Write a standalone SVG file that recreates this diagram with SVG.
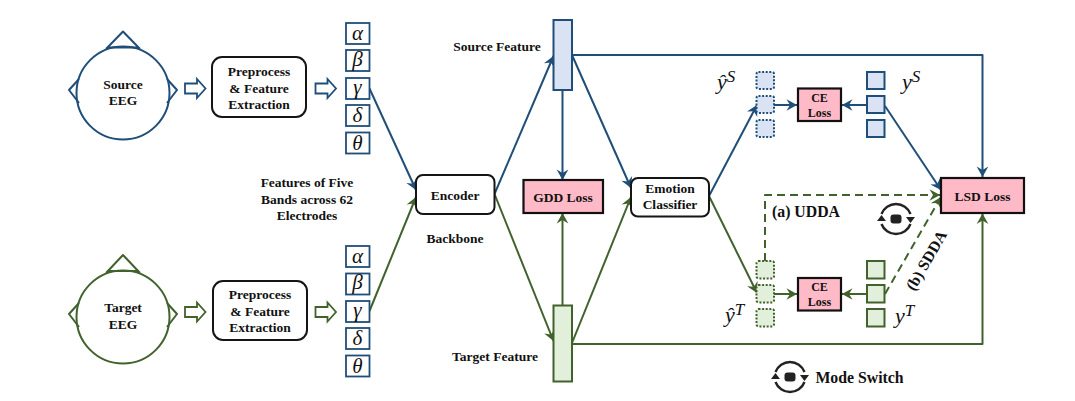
<svg xmlns="http://www.w3.org/2000/svg" xmlns:xlink="http://www.w3.org/1999/xlink" width="1075" height="401" viewBox="0 0 1075 401">
<style>
text{font-family:"Liberation Serif","Times New Roman",serif;font-weight:bold;font-size:13.5px;fill:#111;text-anchor:middle}
.m{font-weight:normal;font-style:italic;font-size:21px;fill:#111}
.ms{font-weight:normal;font-style:italic;font-size:22px;text-anchor:start}
.sup{font-size:17px}
.sm{font-size:12px}
.lg{font-size:15.8px}
.b{stroke:#1f4e79;fill:none;stroke-width:2;stroke-linejoin:round}
.g{stroke:#41622d;fill:none;stroke-width:2;stroke-linejoin:round}
.bx{stroke:#1f4e79;fill:#fff;stroke-width:1.8}
.bl{stroke:#1f4e79;fill:#dae3f3;stroke-width:2}
.gl{stroke:#41622d;fill:#e2efda;stroke-width:2}
.dot{stroke-dasharray:2 1.6}
.dash{stroke-dasharray:8 5}
.round{fill:#fff;stroke:#151515;stroke-width:2}
.pink{fill:#ffbac8;stroke:#111;stroke-width:2.2}
.hb{fill:#fff;stroke:#1f4e79;stroke-width:1.8;stroke-linejoin:miter}
.hg{fill:#fff;stroke:#41622d;stroke-width:1.8;stroke-linejoin:miter}
</style>
<defs>
<marker id="ab" markerUnits="userSpaceOnUse" markerWidth="14" markerHeight="14" refX="10" refY="6" orient="auto" viewBox="0 0 12 12"><path d="M1,1 L10,6 L1,11 L4,6Z" fill="#1f4e79"/></marker>
<marker id="ag" markerUnits="userSpaceOnUse" markerWidth="14" markerHeight="14" refX="10" refY="6" orient="auto" viewBox="0 0 12 12"><path d="M1,1 L10,6 L1,11 L4,6Z" fill="#41622d"/></marker>
<path id="hollow" d="M0,-5 H12 V-9.5 L20.5,0 L12,9.5 V5 H0Z"/>
<g id="switch">
<path d="M-14.5,-5 A15.5,15.5 0 0 1 14.5,-5 M14.5,5 A15.5,15.5 0 0 1 -14.5,5" fill="none" stroke="#222" stroke-width="2.4"/>
<path d="M10,-2 H19 L14.5,4 Z M-10,2 H-19 L-14.5,-4 Z" fill="#222"/>
<rect x="-5.5" y="-4.5" width="11" height="9" rx="3" fill="#222"/>
</g>
</defs>

<g id="connectors">
<path class="b" marker-end="url(#ab)" d="M369.5,88.5 L416,190"/>
<path class="g" marker-end="url(#ag)" d="M369.5,311 L416,197"/>
<path class="b" marker-end="url(#ab)" d="M494.5,194 L553.5,56"/>
<path class="g" marker-end="url(#ag)" d="M494.5,194 L553.5,341"/>
<path class="b" marker-end="url(#ab)" d="M562.5,90 V180"/>
<path class="g" marker-end="url(#ag)" d="M562.5,305.5 V213"/>
<path class="b" marker-end="url(#ab)" d="M572,55 L631,188"/>
<path class="g" marker-end="url(#ag)" d="M572,343 L631,197"/>
<path class="b" marker-end="url(#ab)" d="M572,55 H982.5 V177"/>
<path class="g" marker-end="url(#ag)" d="M572,344 H982.5 V213.5"/>
<path class="b" marker-end="url(#ab)" d="M709,196 L757,105"/>
<path class="g" marker-end="url(#ag)" d="M709,196 L757,293"/>
<path class="b" marker-end="url(#ab)" d="M774,105 H797"/>
<path class="b" marker-end="url(#ab)" d="M867,105 H842"/>
<path class="g" marker-end="url(#ag)" d="M774,294 H797"/>
<path class="g" marker-end="url(#ag)" d="M867,294 H842"/>
<path class="b" marker-end="url(#ab)" d="M885,106 L941,190"/>
<path class="g dash" marker-end="url(#ag)" d="M765,261 V195 H940"/>
<path class="g dash" marker-end="url(#ag)" d="M885,294 L941,197"/>
<g id="hollow-arrows">
<use xlink:href="#hollow" href="#hollow" x="185" y="88.5" class="hb"/>
<use xlink:href="#hollow" href="#hollow" x="315.5" y="88.5" class="hb"/>
<use xlink:href="#hollow" href="#hollow" x="185" y="312" class="hg"/>
<use xlink:href="#hollow" href="#hollow" x="315.5" y="312" class="hg"/>
</g>
</g>

<g id="source-eeg">
<circle cx="123" cy="93" r="46.5" class="b"/>
<path class="b" d="M106,49 L123,31.5 L140,49 M107,47.5 H139 M79,79 L69,90 L79,103 M167,79 L177,90 L167,103"/>
<text x="123" y="89">Source</text><text x="123" y="105">EEG</text>
</g>
<g id="target-eeg">
<circle cx="123" cy="317" r="46.5" class="g"/>
<path class="g" d="M106,273 L123,255 L140,273 M107,271 H139 M79,303 L69,314 L79,327 M167,303 L177,314 L167,327"/>
<text x="123" y="312">Target</text><text x="123" y="329">EEG</text>
</g>
<g id="preprocess-source">
<rect x="212" y="57" width="94" height="60" rx="10" class="round"/>
<text x="259" y="76">Preprocess</text><text x="259" y="92.5">&amp; Feature</text><text x="259" y="109">Extraction</text>
</g>
<g id="preprocess-target">
<rect x="213" y="281" width="94" height="59" rx="10" class="round"/>
<text x="260" y="299">Preprocess</text><text x="260" y="316">&amp; Feature</text><text x="260" y="332">Extraction</text>
</g>
<g id="bands-source">
<rect x="346" y="23" width="23.5" height="21" class="bx"/><text x="357.5" y="40" class="m">α</text>
<rect x="346" y="50" width="23.5" height="21" class="bx"/><text x="357.5" y="66" class="m">β</text>
<rect x="346" y="78" width="23.5" height="21" class="bx"/><text x="357.5" y="94" class="m">γ</text>
<rect x="346" y="105" width="23.5" height="21" class="bx"/><text x="357.5" y="122" class="m">δ</text>
<rect x="346" y="132.5" width="23.5" height="21" class="bx"/><text x="357.5" y="150" class="m">θ</text>
</g>
<g id="bands-target">
<rect x="346" y="246" width="23.5" height="21" class="bx"/><text x="357.5" y="263" class="m">α</text>
<rect x="346" y="273.5" width="23.5" height="21" class="bx"/><text x="357.5" y="289" class="m">β</text>
<rect x="346" y="301" width="23.5" height="21" class="bx"/><text x="357.5" y="317" class="m">γ</text>
<rect x="346" y="328" width="23.5" height="21" class="bx"/><text x="357.5" y="345" class="m">δ</text>
<rect x="346" y="355.5" width="23.5" height="21" class="bx"/><text x="357.5" y="373" class="m">θ</text>
</g>
<g id="features-label">
<text x="307" y="187">Features of Five</text><text x="307" y="204">Bands across 62</text><text x="307" y="220">Electrodes</text>
</g>
<g id="encoder">
<rect x="416" y="175" width="78.5" height="39" rx="7" class="round"/>
<text x="455" y="199.5">Encoder</text>
</g>
<text x="455" y="243">Backbone</text>
<g id="source-feature">
<rect x="553.5" y="20" width="18.5" height="70" class="bl"/>
<text x="497" y="50.5">Source Feature</text>
</g>
<g id="target-feature">
<rect x="553.5" y="305.5" width="18.5" height="76" class="gl"/>
<text x="495" y="360.5">Target Feature</text>
</g>
<g id="gdd-loss">
<rect x="523.5" y="180" width="79.5" height="33" class="pink"/>
<text x="563" y="201.5">GDD Loss</text>
</g>
<g id="emotion-classifier">
<rect x="631" y="178" width="78" height="38.5" rx="7" class="round"/>
<text x="670" y="193">Emotion</text><text x="670" y="209">Classifier</text>
</g>
<g id="pred-source">
<rect x="756.5" y="72" width="17.5" height="17" rx="2" class="bl dot"/>
<rect x="756.5" y="96" width="17.5" height="17" rx="2" class="bl dot"/>
<rect x="756.5" y="120" width="17.5" height="17" rx="2" class="bl dot"/>
<text x="717" y="89" class="ms">ŷ<tspan class="sup" dy="-7">S</tspan></text>
</g>
<g id="label-source">
<rect x="867" y="72" width="17.5" height="17" class="bl"/>
<rect x="867" y="96" width="17.5" height="17" class="bl"/>
<rect x="867" y="120" width="17.5" height="17" class="bl"/>
<text x="902" y="89" class="ms">y<tspan class="sup" dy="-7">S</tspan></text>
</g>
<g id="ce-source">
<rect x="798" y="88.5" width="43" height="32.5" class="pink"/>
<text x="819.5" y="101.5" class="sm">CE</text><text x="819.5" y="117" class="sm">Loss</text>
</g>
<g id="pred-target">
<rect x="756.5" y="261" width="17.5" height="17.5" rx="2" class="gl dot"/>
<rect x="756.5" y="285" width="17.5" height="17.5" rx="2" class="gl dot"/>
<rect x="756.5" y="309" width="17.5" height="17.5" rx="2" class="gl dot"/>
<text x="725" y="322" class="ms">ŷ<tspan class="sup" dy="-7">T</tspan></text>
</g>
<g id="label-target">
<rect x="867" y="261" width="17.5" height="17.5" class="gl"/>
<rect x="867" y="285" width="17.5" height="17.5" class="gl"/>
<rect x="867" y="309" width="17.5" height="17.5" class="gl"/>
<text x="895" y="323" class="ms">y<tspan class="sup" dy="-7">T</tspan></text>
</g>
<g id="ce-target">
<rect x="798" y="278" width="43" height="32.5" class="pink"/>
<text x="819.5" y="291" class="sm">CE</text><text x="819.5" y="306" class="sm">Loss</text>
</g>
<g id="lsd-loss">
<rect x="941" y="178" width="83" height="35" class="pink"/>
<text x="982.5" y="200.5">LSD Loss</text>
</g>
<text x="806" y="217" class="lg">(a) UDDA</text>
<text transform="translate(931,263) rotate(-60)" class="lg">(b) SDDA</text>
<use xlink:href="#switch" href="#switch" x="896" y="219"/>
<g id="mode-switch">
<use xlink:href="#switch" href="#switch" x="790" y="377"/>
<text x="859.5" y="383" class="lg">Mode Switch</text>
</g>
</svg>
